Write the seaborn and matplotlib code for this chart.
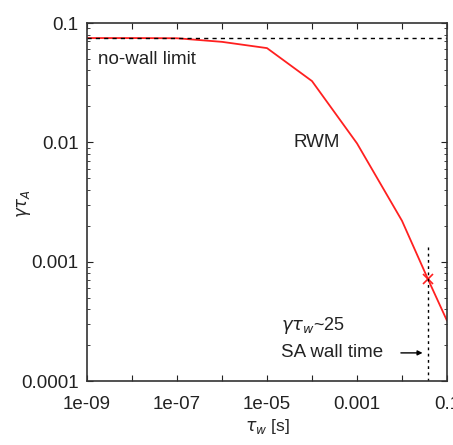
import matplotlib
matplotlib.use("Agg")
import matplotlib.pyplot as plt
import seaborn as sns
import pandas as pd
from matplotlib.ticker import LogLocator, FixedLocator, FixedFormatter, NullFormatter

# Data
tau_w = [1e-9, 1e-8, 1e-7, 1e-6, 1e-5, 1e-4, 1e-3, 1e-2, 0.038, 0.1]
gamma_tau_a = [0.0748, 0.0748, 0.0745, 0.0695, 0.0616, 0.0326, 0.0098, 0.0022, 0.00071, 0.00032]
no_wall_limit = 0.0755
sa_wall_time = 0.038
sa_point = 0.00071
sa_line_top = 0.00136

x_ticks = [10.0**k for k in range(-9, 0)]
x_tick_labels = ["1e-09", "", "1e-07", "", "1e-05", "", "0.001", "", "0.1"]
y_ticks = [1e-4, 1e-3, 1e-2, 1e-1]
y_tick_labels = ["0.0001", "0.001", "0.01", "0.1"]

sns.set_style("ticks")
plt.rcParams['font.family'] = ['Liberation Sans', 'DejaVu Sans']
plt.rcParams['mathtext.fontset'] = 'dejavusans'

fig = plt.figure(figsize=(4.53, 4.45), dpi=100)
ax = fig.add_axes([87/453, 64/445, 360/453, 358/445])

df = pd.DataFrame({"tau_w": tau_w, "gamma": gamma_tau_a})
sns.lineplot(data=df, x="tau_w", y="gamma", ax=ax, color="#ff2020", lw=1.3)
ax.plot([sa_wall_time], [sa_point], marker="x", color="#ff2020", ms=7, mew=1.2)

ax.axhline(no_wall_limit, color="black", ls=(0, (3, 3)), lw=1.0)
ax.plot([sa_wall_time, sa_wall_time], [1e-4, sa_line_top], color="black", ls=(0, (2, 2.5)), lw=1.0)

ax.set_xscale("log")
ax.set_yscale("log")
ax.set_xlim(1e-9, 1e-1)
ax.set_ylim(1e-4, 1e-1)

ax.xaxis.set_major_locator(FixedLocator(x_ticks))
ax.xaxis.set_major_formatter(FixedFormatter(x_tick_labels))
ax.xaxis.set_minor_locator(LogLocator(base=10, subs=(2, 5)))
ax.xaxis.set_minor_formatter(NullFormatter())
ax.yaxis.set_major_locator(FixedLocator(y_ticks))
ax.yaxis.set_major_formatter(FixedFormatter(y_tick_labels))
ax.yaxis.set_minor_locator(LogLocator(base=10, subs=range(2, 10)))
ax.yaxis.set_minor_formatter(NullFormatter())

ax.tick_params(which="both", direction="in", top=True, right=True, labelsize=13.5, colors="#222222")
ax.tick_params(which="major", length=4, width=0.8)
ax.tick_params(which="minor", length=2, width=0.6)
ax.tick_params(axis="x", pad=11)
ax.tick_params(axis="y", pad=6)
for s in ax.spines.values():
    s.set_linewidth(1.2)
    s.set_color("#333333")

ax.set_xlabel(r"$\tau_w$ [s]", fontsize=12.5, labelpad=3)
ax.set_ylabel(r"$\gamma\tau_A$", fontsize=12)
ax.yaxis.set_label_coords(-0.15, 0.497)

ax.text(1.8e-9, 0.0497, "no-wall limit", fontsize=13.5, color="#222222", va="center", ha="left")
ax.text(1.3e-4, 0.0099, "RWM", fontsize=13.5, color="#222222", va="center", ha="center")
ax.text(2.1e-5, 0.00029, r"$\gamma\tau_w$~25", fontsize=13, color="#222222", va="center", ha="left")
ax.text(2.1e-5, 0.000172, "SA wall time", fontsize=13.5, color="#222222", va="center", ha="left")
ax.annotate("", xy=(0.033, 0.000172), xytext=(0.0082, 0.000172),
            arrowprops=dict(arrowstyle="-|>", color="black", lw=1.0, mutation_scale=7))

fig.savefig("out.png", dpi=100)
